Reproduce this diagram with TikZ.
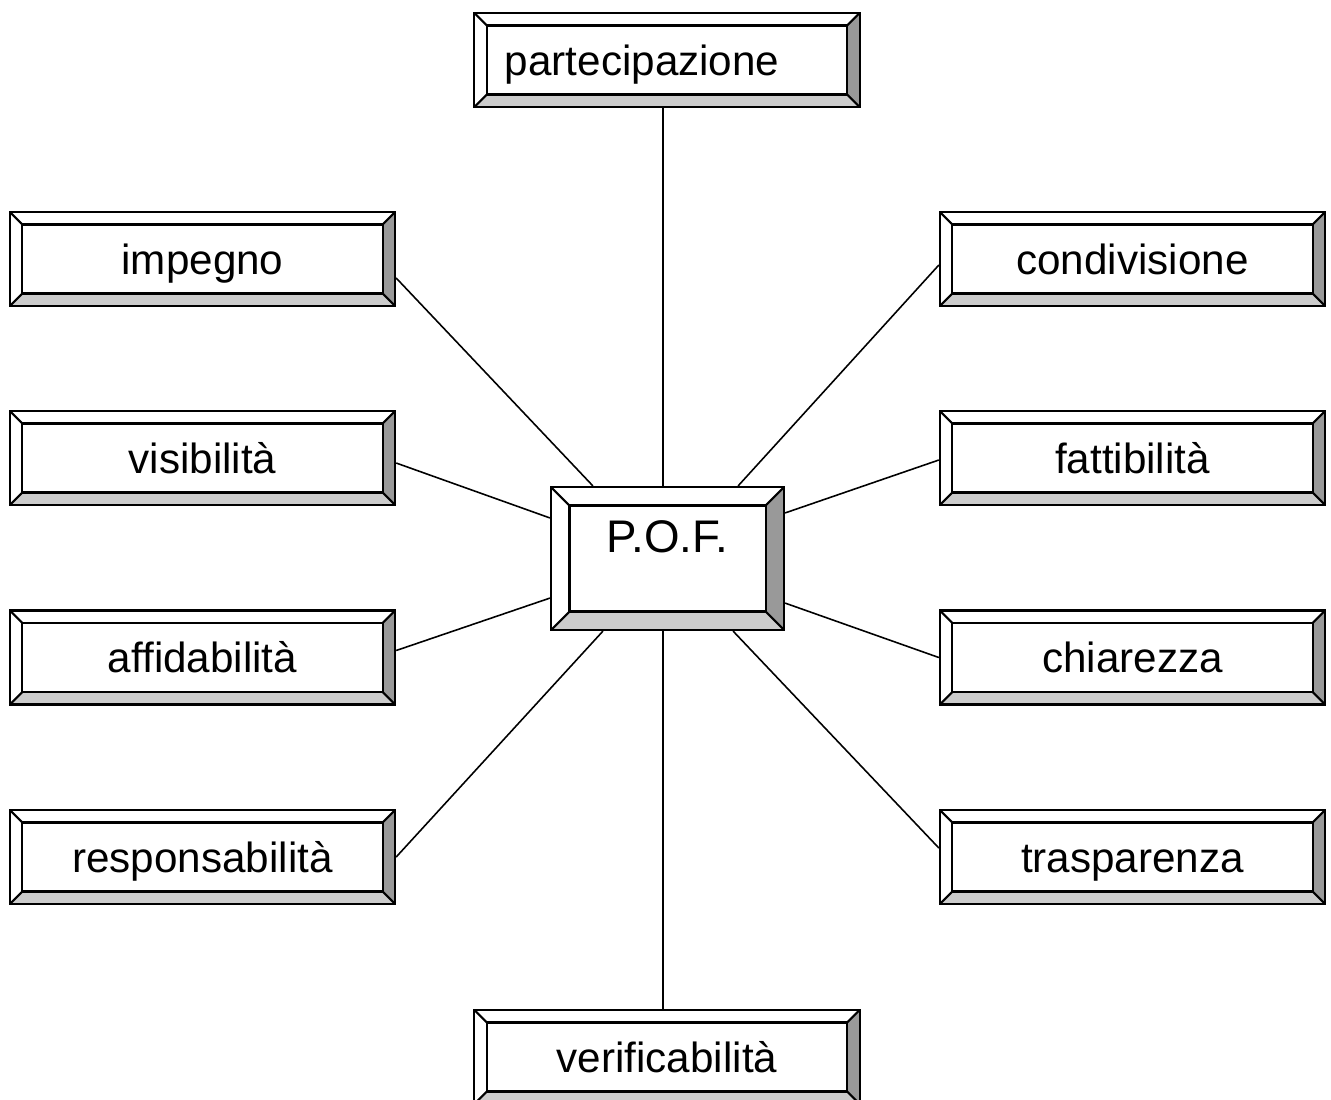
\documentclass[tikz,border=0pt]{standalone}
\usepackage{fontspec}
\setmainfont{Liberation Sans}
\begin{document}
\begin{tikzpicture}[x=0.01cm, y=-0.01cm,
    bevel/.style={draw, line width=0.6pt, inner sep=0pt,
      minimum width=3.85cm, minimum height=0.94cm,
      text height=8.6pt, text depth=0pt, font=\fontsize{12}{14}\selectfont,
      path picture={
        \coordinate (nw) at (path picture bounding box.north west);
        \coordinate (ne) at (path picture bounding box.north east);
        \coordinate (sw) at (path picture bounding box.south west);
        \coordinate (se) at (path picture bounding box.south east);
        \coordinate (inw) at ([shift={(#1,-#1)}]nw);
        \coordinate (ine) at ([shift={(-#1,-#1)}]ne);
        \coordinate (isw) at ([shift={(#1,#1)}]sw);
        \coordinate (ise) at ([shift={(-#1,#1)}]se);
        \fill[black!40] (ne) -- (se) -- (ise) -- (ine) -- cycle;
        \fill[black!20] (sw) -- (se) -- (ise) -- (isw) -- cycle;
        \draw[line width=0.6pt] (inw) rectangle (ise);
        \draw[line width=0.6pt] (nw) -- (inw) (ne) -- (ine) (sw) -- (isw) (se) -- (ise);
      }},
    bevel/.default=0.125cm,
    link/.style={line width=0.45pt}]
  \useasboundingbox (0,0) rectangle (1331,1099);

  % centre
  \node[bevel=0.185cm, minimum width=2.33cm, minimum height=1.43cm,
        font=\fontsize{13}{15}\selectfont, text height=9.3pt, text depth=13pt] (pof) at (667.5,558.5) {P.O.F.};

  % top and bottom
  \node[bevel, text width=3.24cm, align=left] (partecipazione) at (667,60) {partecipazione};
  \node[bevel] (verificabilita) at (667,1057) {verificabilità};

  % left column
  \node[bevel] (impegno) at (202.5,259) {impegno};
  \node[bevel] (visibilita) at (202.5,458) {visibilità};
  \node[bevel] (affidabilita) at (202.5,657.5) {affidabilità};
  \node[bevel] (responsabilita) at (202.5,857) {responsabilità};

  % right column
  \node[bevel] (condivisione) at (1132.5,259) {condivisione};
  \node[bevel] (fattibilita) at (1132.5,458) {fattibilità};
  \node[bevel] (chiarezza) at (1132.5,657.5) {chiarezza};
  \node[bevel] (trasparenza) at (1132.5,857) {trasparenza};

  % links
  \draw[link] ([xshift=-0.04cm]partecipazione.south) -- ([xshift=-0.045cm]pof.north);
  \draw[link] ([xshift=-0.045cm]pof.south) -- ([xshift=-0.04cm]verificabilita.north);
  \draw[link] ([yshift=-0.19cm]impegno.east) -- ([xshift=0.43cm]pof.north west);
  \draw[link] ([yshift=-0.05cm]visibilita.east) -- ([yshift=-0.32cm]pof.north west);
  \draw[link] ([yshift=0.07cm]affidabilita.east) -- ([yshift=0.33cm]pof.south west);
  \draw[link] (responsabilita.east) -- ([xshift=0.53cm]pof.south west);
  \draw[link] ([yshift=-0.06cm]condivisione.west) -- ([xshift=-0.47cm]pof.north east);
  \draw[link] ([yshift=-0.02cm]fattibilita.west) -- ([yshift=-0.27cm]pof.north east);
  \draw[link] (chiarezza.west) -- ([yshift=0.28cm]pof.south east);
  \draw[link] ([yshift=0.09cm]trasparenza.west) -- ([xshift=-0.52cm]pof.south east);
\end{tikzpicture}
\end{document}
